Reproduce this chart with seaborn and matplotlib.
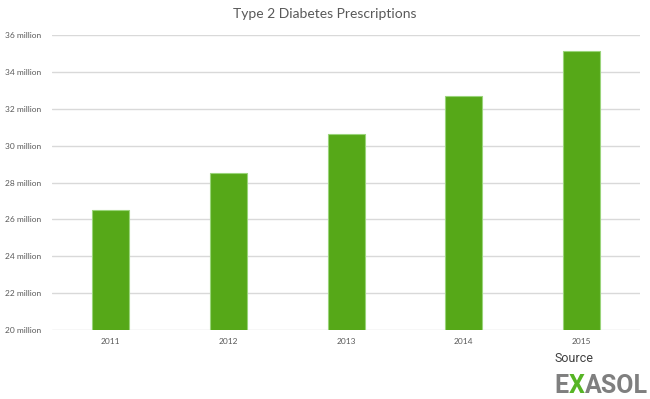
import matplotlib
matplotlib.use("Agg")
import matplotlib.pyplot as plt
import seaborn as sns
import pandas as pd

# Data (millions of prescriptions)
years = ["2011", "2012", "2013", "2014", "2015"]
prescriptions = [26.53, 28.54, 30.62, 32.68, 35.16]
ytick_values = [20, 22, 24, 26, 28, 30, 32, 34, 36]

sns.set_style("white")
plt.rcParams['font.family'] = ['Lato', 'DejaVu Sans']

df = pd.DataFrame({"year": years, "value": prescriptions})

fig = plt.figure(figsize=(6.5, 3.99), dpi=100)
ax = fig.add_axes([0.08, 0.173, 0.905, 0.739])

sns.barplot(data=df, x="year", y="value", color="#56a818", saturation=1,
            width=0.315, edgecolor="#9ad47a", linewidth=0.8, ax=ax, zorder=3)

ax.set_ylim(20, 36)
ax.set_yticks(ytick_values)
ax.set_yticklabels([f"{v} million" for v in ytick_values])
ax.yaxis.grid(True, color="#d9d9d9", linewidth=1, zorder=0)
ax.set_axisbelow(True)
for s in ax.spines.values():
    s.set_visible(False)
ax.tick_params(axis="both", length=0, labelsize=6, labelcolor="#595959")
ax.tick_params(axis="x", pad=6)
ax.tick_params(axis="y", pad=7.5)
ax.set_xlabel("")
ax.set_ylabel("")

fig.text(0.5, 0.965, "Type 2 Diabetes Prescriptions", ha="center", va="center",
         fontsize=10, color="#595959")

# Source logo, pieces laid out one after another
fig.text(0.853, 0.102, "Source", ha="left", va="center", fontsize=9,
         color="#404040", family=['Roboto', 'DejaVu Sans'])
renderer = fig.canvas.get_renderer()
x = 554 / 650
for piece, col in [("E", "#7f7f7f"), ("X", "#56b424"), ("ASOL", "#7f7f7f")]:
    t = fig.text(x, 0.014, piece, ha="left", va="baseline", color=col,
                 fontsize=18, fontweight="bold", family=['Roboto', 'DejaVu Sans'])
    bb = t.get_window_extent(renderer)
    x = (bb.x1 + 0.3) / fig.bbox.width

fig.savefig("out.png", dpi=100)
